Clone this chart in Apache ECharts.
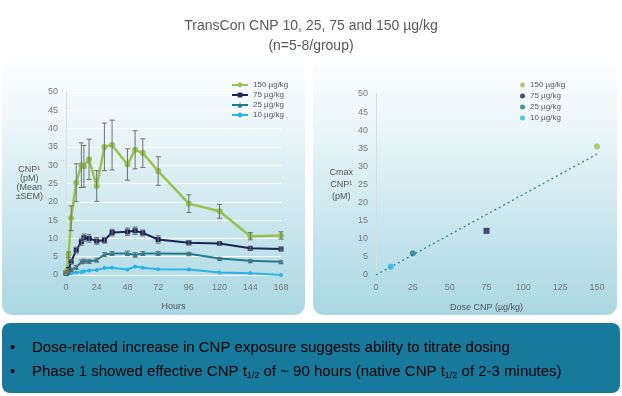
<!DOCTYPE html>
<html>
<head>
<meta charset="utf-8">
<script src="https://cdn.jsdelivr.net/npm/echarts@6/dist/echarts.min.js"></script>
<style>
  html, body { margin: 0; padding: 0; background: #fff; }
  #chart { width: 622px; height: 396px; }
</style>
</head>
<body>
<div id="chart"></div>
<script>
// PK profile, mean (+/- SEM) by hour
const hours = [0, 2, 4, 8, 12, 14, 18, 24, 30, 36, 48, 54, 60, 72, 96, 120, 144, 168]
const cnp150 = [0.8, 5.5, 15.5, 25.2, 30.0, 29.7, 31.6, 24.3, 35.0, 35.5, 30.2, 34.2, 33.3, 28.4, 19.5, 17.4, 10.6, 10.8]
const sem150 = [0.3, 0.8, 3.4, 5.2, 6.1, 5.7, 5.5, 4.2, 6.5, 6.8, 4.3, 5.2, 3.9, 3.9, 2.4, 1.9, 1.0, 1.0]
const cnp75 = [0.6, 1.5, 3.6, 6.8, 9.1, 10.2, 10.0, 9.3, 9.5, 11.6, 11.8, 12.1, 11.5, 9.7, 8.8, 8.6, 7.3, 7.1]
const sem75 = [0.2, 0.3, 0.5, 0.8, 1.0, 1.0, 1.0, 0.9, 0.8, 0.9, 1.0, 1.0, 0.8, 1.0, 0.6, 0.5, 0.4, 0.3]
const cnp25 = [0.5, 0.8, 1.5, 2.1, 3.6, 3.8, 3.7, 4.1, 5.6, 5.9, 5.9, 5.5, 5.9, 5.9, 5.8, 4.5, 3.9, 3.6]
const sem25 = [0.1, 0.2, 0.3, 0.5, 0.5, 0.5, 0.5, 0.5, 0.5, 0.5, 0.6, 0.6, 0.5, 0.5, 0.4, 0.3, 0.3, 0.3]
const cnp10 = [0.2, 0.3, 0.5, 0.7, 0.8, 1.0, 1.2, 1.4, 1.9, 2.0, 1.5, 2.3, 2.0, 1.6, 1.5, 0.7, 0.5, 0.0]

// Cmax by dose
const doses = [10, 25, 75, 150]
const cmax = [2.3, 6.0, 12.2, 35.5]
const trendDose = [0, 150]
const trendCmax = [0, 33.4]

const doseLabels = ['150 µg/kg', '75 µg/kg', '25 µg/kg', '10 µg/kg']
const colors = { d150: '#96c44d', d75: '#1b2358', d25: '#1f7b92', d10: '#2bb3e6' }
const font = 'Liberation Sans, Arial, sans-serif'

const pairs = (xs, ys) => xs.map((x, i) => [x, ys[i]])
const errRows = (ys, sem) => hours.map((h, i) => [h, ys[i] - sem[i], ys[i] + sem[i]])

const renderErr = (params, api) => {
  const lo = api.coord([api.value(0), api.value(1)])
  const hi = api.coord([api.value(0), api.value(2)])
  const style = { stroke: '#6e6e6e', lineWidth: 1 }
  return {
    type: 'group',
    children: [
      { type: 'line', shape: { x1: lo[0], y1: lo[1], x2: hi[0], y2: hi[1] }, style },
      { type: 'line', shape: { x1: lo[0] - 2.5, y1: lo[1], x2: lo[0] + 2.5, y2: lo[1] }, style },
      { type: 'line', shape: { x1: hi[0] - 2.5, y1: hi[1], x2: hi[0] + 2.5, y2: hi[1] }, style }
    ]
  }
}

const tickLabel = { color: '#777', fontSize: 9, fontFamily: font }
const nameStyle = { color: '#555', fontSize: 9, fontFamily: font, lineHeight: 9 }

const lineSeries = (name, ys, color, symbol, size, width) => ({
  name,
  type: 'line',
  xAxisIndex: 0,
  yAxisIndex: 0,
  data: pairs(hours, ys),
  symbol,
  symbolSize: size,
  lineStyle: { color, width },
  itemStyle: { color },
  z: 2
})

const errSeries = (ys, sem) => ({
  type: 'custom',
  xAxisIndex: 0,
  yAxisIndex: 0,
  data: errRows(ys, sem),
  encode: { x: 0, y: [1, 2] },
  renderItem: renderErr,
  z: 3,
  silent: true
})

const dotSeries = (i, color, symbol) => ({
  name: 'cmax' + i,
  type: 'scatter',
  xAxisIndex: 1,
  yAxisIndex: 1,
  data: [[doses[i], cmax[i]]],
  symbol,
  symbolSize: 6,
  itemStyle: { color },
  z: 3
})

const chart = echarts.init(document.getElementById('chart'))

chart.setOption({
  animation: false,
  textStyle: { fontFamily: font },
  title: {
    text: 'TransCon CNP 10, 25, 75 and 150 µg/kg\n(n=5-8/group)',
    left: 'center',
    top: 11,
    textStyle: { color: '#595959', fontSize: 14, fontWeight: 'normal', lineHeight: 20, fontFamily: font }
  },
  graphic: [
    {
      type: 'rect', z: -10,
      shape: { x: 2, y: 55, width: 303, height: 260, r: 10 },
      style: { fill: new echarts.graphic.LinearGradient(0, 0, 0, 1, [
        { offset: 0, color: '#fdfeff' }, { offset: 0.25, color: '#eef7fa' }, { offset: 1, color: '#a9d7e2' }
      ]) }
    },
    {
      type: 'rect', z: -10,
      shape: { x: 313, y: 55, width: 304, height: 260, r: 10 },
      style: { fill: new echarts.graphic.LinearGradient(0, 0, 0, 1, [
        { offset: 0, color: '#fdfeff' }, { offset: 0.25, color: '#eef7fa' }, { offset: 1, color: '#a9d7e2' }
      ]) }
    },
    {
      type: 'rect', z: -10,
      shape: { x: 2, y: 323, width: 618, height: 70, r: 8 },
      style: { fill: '#17799c' }
    },
    {
      type: 'text', left: 10, top: 340,
      style: {
        text: '{m|•}\n{m|•}',
        rich: { m: { fontSize: 15, fontFamily: font, color: '#ffffff', lineHeight: 24 } }
      }
    },
    {
      type: 'text', left: 32, top: 340,
      style: {
        text: '{m|Dose-related increase in CNP exposure suggests ability to titrate dosing}\n' +
              '{m|Phase 1 showed effective CNP t}{s|1/2}{m| of ~ 90 hours (native CNP t}{s|1/2}{m| of 2-3 minutes)}',
        rich: {
          m: { fontSize: 15, fontFamily: font, color: '#ffffff', lineHeight: 24, verticalAlign: 'middle' },
          s: { fontSize: 9, fontFamily: font, color: '#ffffff', lineHeight: 24, verticalAlign: 'bottom', padding: [0, 0, 3, 0] }
        }
      }
    }
  ],
  legend: [
    {
      data: doseLabels,
      orient: 'vertical',
      left: 226,
      top: 76,
      itemWidth: 16,
      itemHeight: 6,
      itemGap: 2,
      textStyle: { color: '#555', fontSize: 8, lineHeight: 7, fontFamily: font }
    },
    {
      data: ['cmax3', 'cmax2', 'cmax1', 'cmax0'],
      formatter: (name) => doseLabels[3 - Number(name.slice(4))],
      orient: 'vertical',
      left: 515,
      top: 76,
      icon: 'circle',
      itemWidth: 5,
      itemHeight: 5,
      itemGap: 3,
      textStyle: { color: '#555', fontSize: 8, lineHeight: 7, fontFamily: font }
    }
  ],
  grid: [
    { left: 66, top: 92, width: 215, height: 183 },
    { left: 376, top: 94, width: 221, height: 181 }
  ],
  xAxis: [
    {
      gridIndex: 0,
      type: 'value',
      min: 0, max: 168, interval: 24,
      name: 'Hours',
      nameLocation: 'middle',
      nameGap: 27,
      nameTextStyle: { color: '#555', fontSize: 9, fontFamily: font },
      axisLine: { show: false },
      axisTick: { show: false },
      splitLine: { show: false },
      axisLabel: tickLabel
    },
    {
      gridIndex: 1,
      type: 'value',
      min: 0, max: 150, interval: 25,
      name: 'Dose CNP (µg/kg)',
      nameLocation: 'middle',
      nameGap: 28,
      nameTextStyle: { color: '#555', fontSize: 9, fontFamily: font },
      axisLine: { show: false },
      axisTick: { show: false },
      splitLine: { show: false },
      axisLabel: tickLabel
    }
  ],
  yAxis: [
    {
      gridIndex: 0,
      type: 'value',
      min: 0, max: 50, interval: 5,
      name: 'CNP¹\n(pM)\n(Mean\n±SEM)',
      nameLocation: 'middle',
      nameRotate: 0,
      nameGap: 30,
      nameTextStyle: Object.assign({ padding: [10, 0, 0, 0], align: 'center', width: 30 }, nameStyle),
      axisLine: { show: true, lineStyle: { color: '#d8dde0' } },
      axisTick: { show: false },
      splitLine: { show: true, lineStyle: { color: '#ffffff', width: 1 } },
      axisLabel: tickLabel
    },
    {
      gridIndex: 1,
      type: 'value',
      min: 0, max: 50, interval: 5,
      name: 'Cmax\nCNP¹\n(pM)',
      nameLocation: 'middle',
      nameRotate: 0,
      nameGap: 30,
      nameTextStyle: Object.assign({ padding: [10, 0, 0, 0], align: 'center', width: 30 }, nameStyle, { lineHeight: 12 }),
      axisLine: { show: true, lineStyle: { color: '#d8dde0' } },
      axisTick: { show: false },
      splitLine: { show: false },
      axisLabel: tickLabel
    }
  ],
  series: [
    lineSeries(doseLabels[3], cnp10, colors.d10, 'circle', 4, 2),
    lineSeries(doseLabels[2], cnp25, colors.d25, 'triangle', 5, 2),
    lineSeries(doseLabels[1], cnp75, colors.d75, 'rect', 5, 2),
    lineSeries(doseLabels[0], cnp150, colors.d150, 'circle', 6, 2.5),
    errSeries(cnp25, sem25),
    errSeries(cnp75, sem75),
    errSeries(cnp150, sem150),
    {
      type: 'line',
      xAxisIndex: 1,
      yAxisIndex: 1,
      data: pairs(trendDose, trendCmax),
      showSymbol: false,
      lineStyle: { color: '#3b8ea6', width: 1.5, type: [2, 3] },
      silent: true,
      z: 2
    },
    dotSeries(0, colors.d10, 'circle'),
    dotSeries(1, colors.d25, 'circle'),
    dotSeries(2, colors.d75, 'rect'),
    dotSeries(3, colors.d150, 'circle')
  ]
})
</script>
</body>
</html>
